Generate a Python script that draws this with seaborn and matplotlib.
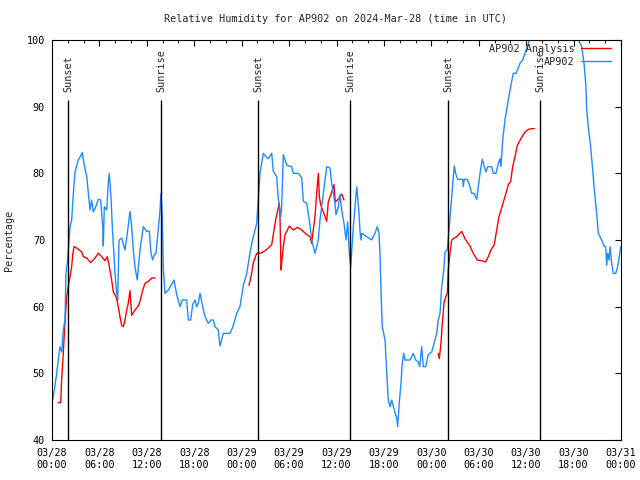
import numpy as np
import pandas as pd
import matplotlib
matplotlib.use("Agg")
import matplotlib.pyplot as plt
import matplotlib.dates as mdates
from matplotlib.lines import Line2D
import seaborn as sns

start = pd.Timestamp("2024-03-28 00:00")

# AP902 observed RH: hours since 03/28 00:00 UTC, percent
obs_hours = [0.1, 0.38, 0.59, 1.01, 1.23, 1.43, 1.64, 1.77, 1.94, 2.06, 2.28, 2.49, 2.7, 2.91, 3.33,
             3.83, 3.96, 4.39, 4.59, 4.81, 5.02, 5.23, 5.53, 5.86, 6.16, 6.42, 6.49, 6.62, 6.92, 7.12,
             7.25, 7.47, 7.63, 7.97, 8.19, 8.31, 8.48, 8.82, 9.24, 9.53, 9.87, 10.08, 10.29, 10.5, 10.79,
             11.13, 11.55, 11.98, 12.31, 12.53, 12.74, 12.94, 13.16, 13.32, 13.5, 13.67, 13.79, 13.96,
             14.08, 14.3, 14.72, 15.44, 15.78, 16.2, 16.49, 17.04, 17.25, 17.55, 17.8, 18.09, 18.31,
             18.51, 18.73, 19.07, 19.36, 19.78, 20.12, 20.41, 20.63, 21.04, 21.26, 21.68, 22.52, 22.9,
             23.37, 23.79, 24.21, 24.64, 25.05, 25.27, 25.9, 26.1, 26.32, 26.74, 27.08, 27.37, 27.8, 28.0,
             28.43, 28.63, 28.94, 29.06, 29.27, 29.7, 30.33, 30.53, 31.17, 31.6, 31.8, 32.23, 32.56,
             32.86, 33.28, 33.7, 33.91, 34.76, 35.18, 35.39, 35.81, 35.93, 36.23, 36.44, 36.66, 36.95,
             37.2, 37.42, 37.62, 37.8, 38.13, 38.56, 38.85, 38.98, 39.1, 39.19, 39.82, 40.45, 40.87,
             41.16, 41.38, 41.5, 41.63, 41.79, 42.14, 42.35, 42.55, 42.77, 42.98, 43.31, 43.62, 43.74,
             43.95, 44.16, 44.32, 44.5, 44.67, 45.3, 45.72, 46.02, 46.35, 46.53, 46.78, 46.98, 47.29,
             47.61, 48.05, 48.46, 48.68, 48.88, 49.1, 49.31, 49.58, 49.73, 50.02, 50.27, 50.58, 50.78,
             50.9, 51.08, 51.33, 51.97, 52.04, 52.17, 52.55, 52.89, 53.1, 53.43, 53.74, 53.94, 54.16,
             54.45, 54.7, 54.92, 55.13, 55.64, 55.84, 56.18, 56.47, 56.69, 56.81, 57.03, 57.32, 57.74,
             58.04, 58.37, 58.71, 59.0, 59.22, 59.56, 59.85, 60.14, 60.4, 61.1, 62.4, 63.6, 64.9, 66.2,
             67.03, 67.32, 67.57, 67.66, 67.86, 68.16, 68.42, 68.62, 68.92, 69.13, 69.56, 69.85, 70.06,
             70.19, 70.31, 70.48, 70.61, 70.82, 71.03, 71.33, 71.58, 71.78, 71.96]
obs_rh = [46, 48.2, 50, 54, 53.2, 56.5, 58, 65, 66.5, 68.5, 72, 73, 77, 80.2, 82,
          83.1, 82, 79.5, 77.2, 74.5, 76, 74.2, 75, 76.1, 76, 72, 69.1, 75, 74.5, 78.5,
          80, 76.3, 72, 65, 62, 61, 70, 70.3, 68.5, 71, 74.3, 72, 68.5, 66, 64,
          68.5, 72, 71.3, 71.3, 68, 67, 67.8, 68, 70, 72.1, 74.5, 77, 73.5,
          65.8, 62, 62.5, 64, 61.8, 60, 61, 61, 58, 58, 60.3, 61, 60,
          60.5, 62, 60, 58.5, 57.5, 58, 58, 57, 56.5, 54.1, 56, 56, 57,
          59, 60, 63.2, 65, 68, 69.5, 72.5, 76, 80, 83, 82.5, 82.2, 83, 80.3,
          79.5, 76.3, 73.5, 75, 82.8, 81.2, 81, 80, 80, 79.3, 75.8, 75.5, 73,
          70, 68, 70, 73, 81, 80.8, 78.5, 75.5, 73.8, 75, 76.8, 74.5, 72.5,
          70, 72.7, 68, 66, 72, 78, 74, 71.2, 70, 71, 70.5, 70, 71,
          72, 71, 68, 62.5, 57, 55, 50.5, 46, 45, 46, 44.5, 43.3, 42,
          45.7, 48.5, 51.5, 53, 52, 52, 53, 52, 51.7, 51, 54, 51, 51,
          52.8, 53.2, 55, 56, 58, 59, 63, 65.5, 68.2, 68.5, 72, 76.5, 79.5,
          81.1, 80, 79.1, 79.1, 78, 79.1, 79.1, 78, 77, 77, 76.1, 78, 80,
          82.1, 81, 80.2, 81, 81, 80, 80, 81.5, 82.2, 81, 85, 88, 91,
          93, 95, 95, 95.8, 96.5, 97, 98, 99, 100, 101.5, 102.5, 102.5, 102, 101,
          99, 96.5, 93, 89.5, 87, 84, 80.5, 77.5, 74, 71, 70, 69.1, 69,
          66.2, 68, 67, 69, 66.5, 65, 65, 66, 67.5, 69]

# AP902 Analysis: three separate segments
ana_hours = [[0.8, 1.1, 1.23, 1.43, 1.56, 1.73, 1.86, 2.06, 2.28, 2.49, 2.62, 2.78, 3.13, 3.76, 3.96,
              4.39, 4.9, 5.44, 5.86, 6.29, 6.71, 7.0, 7.25, 7.55, 7.76, 8.1, 8.31, 8.6, 8.82, 9.02,
              9.24, 9.45, 9.65, 9.87, 10.08, 10.5, 10.92, 11.13, 11.48, 11.77, 12.19, 12.62, 13.03],
             [24.93, 25.27, 25.45, 25.9, 26.32, 26.74, 27.37, 27.8, 28.0, 28.34, 28.63, 28.76, 28.85,
              28.98, 29.06, 29.27, 29.48, 29.7, 30.03, 30.53, 31.04, 31.6, 32.23, 32.65, 32.86, 33.06,
              33.28, 33.49, 33.7, 33.83, 34.0, 34.33, 34.76, 34.96, 35.39, 35.68, 35.85, 36.1, 36.35,
              36.66, 36.95],
             [48.88, 49.01, 49.22, 49.39, 49.6, 49.82, 50.02, 50.14, 50.36, 50.58, 50.78, 51.21, 51.84,
              52.26, 52.89, 53.3, 53.81, 54.37, 54.88, 55.21, 55.55, 55.96, 56.27, 56.56, 56.9, 57.32,
              57.74, 58.04, 58.29, 58.59, 58.88, 59.43, 59.85, 60.27, 60.7, 61.03]]
ana_rh = [[45.6, 45.6, 49.3, 53, 56, 59.2, 61.5, 63, 64.5, 66, 67.8, 69, 68.8, 68.2, 67.5,
           67.3, 66.6, 67.3, 68, 67.5, 66.9, 67.5, 66, 64, 62.2, 61.5, 60.5, 58.5, 57.2, 57,
           58, 59.5, 60.5, 62.4, 58.7, 59.5, 60.1, 60.8, 62.5, 63.5, 63.8, 64.3, 64.3],
          [63.2, 65, 66.5, 68, 68, 68.2, 68.8, 69.3, 70.8, 73.3, 74.8, 75.5, 73.5,
           65.5, 66.5, 69, 70.8, 71.3, 72.1, 71.5, 71.9, 71.5, 70.8, 70.5, 69.5, 71.5,
           73.5, 77, 80, 76.5, 75.3, 74.2, 72.8, 75.7, 77.2, 78.3, 75.7, 76, 76.3,
           76.9, 76],
          [53, 52.2, 54.5, 57.5, 60.5, 61.5, 62, 65.5, 68, 70, 70.2, 70.5, 71.3,
           70.2, 69.1, 68, 67, 66.9, 66.7, 67.5, 68.5, 69.3, 71.5, 73.5, 74.8, 76.5,
           78.3, 78.8, 81, 82.5, 84.2, 85.4, 86.2, 86.6, 86.7, 86.7]]

sun_hours = [2.02, 13.79, 26.07, 37.71, 50.11, 61.75]
sun_labels = ["Sunset", "Sunrise", "Sunset", "Sunrise", "Sunset", "Sunrise"]

RED = "#ff0000"
BLUE = "#1e8cff"

obs = pd.DataFrame({"time": start + pd.to_timedelta(obs_hours, unit="h"), "rh": obs_rh})
ana = pd.concat([
    pd.DataFrame({"time": start + pd.to_timedelta(h, unit="h"), "rh": v, "seg": i})
    for i, (h, v) in enumerate(zip(ana_hours, ana_rh))
], ignore_index=True)

sns.set_style("white")
plt.rcParams["font.family"] = ["DejaVu Sans Mono", "DejaVu Sans"]

fig = plt.figure(figsize=(6.4, 4.8), dpi=100)
ax = fig.add_axes([52 / 640, 1 - 440 / 480, 569 / 640, 400 / 480])

sns.lineplot(data=ana, x="time", y="rh", units="seg", estimator=None, sort=False,
             color=RED, lw=1, ax=ax, legend=False)
sns.lineplot(data=obs, x="time", y="rh", estimator=None, sort=False,
             color=BLUE, lw=1, ax=ax, legend=False)

sun_times = start + pd.to_timedelta(sun_hours, unit="h")
ax.vlines(sun_times, 40, 91, color="black", lw=1, zorder=3)
for t, lab in zip(sun_times, sun_labels):
    ax.text(t, 92.2, lab, rotation=90, ha="center", va="bottom", fontsize=7.3)

ax.set_xlim(start, start + pd.Timedelta(hours=72))
ax.set_ylim(40, 100)
ax.set_yticks(range(40, 101, 10))
ax.xaxis.set_major_locator(mdates.HourLocator(byhour=[0, 6, 12, 18]))
ax.xaxis.set_minor_locator(mdates.HourLocator(byhour=range(0, 24, 2)))
ax.xaxis.set_major_formatter(mdates.DateFormatter("%m/%d\n%H:%M"))
ax.tick_params(axis="both", which="major", direction="in", length=4, width=0.8,
               top=True, right=True, labelsize=7.3, colors="black")
ax.tick_params(axis="both", which="minor", direction="in", length=2, width=0.8,
               top=True, right=True)
ax.tick_params(axis="x", which="major", pad=6)
ax.tick_params(axis="y", which="major", pad=5)
for s in ax.spines.values():
    s.set_color("black")
    s.set_linewidth(0.8)

ax.set_xlabel("")
ax.set_ylabel("Percentage", fontsize=7.3, labelpad=9)
fig.text(335 / 640, 1 - 19 / 480, "Relative Humidity for AP902 on 2024-Mar-28 (time in UTC)",
         ha="center", va="center", fontsize=7.3)

handles = [Line2D([], [], color=RED, lw=1), Line2D([], [], color=BLUE, lw=1)]
ax.legend(handles, ["AP902 Analysis", "AP902"], loc="upper right", bbox_to_anchor=(0.982, 0.99),
          frameon=False, markerfirst=False, fontsize=7.3, handlelength=2.9, handletextpad=0.7,
          labelspacing=0.3, borderpad=0, borderaxespad=0)

fig.savefig("out.png", dpi=100)
